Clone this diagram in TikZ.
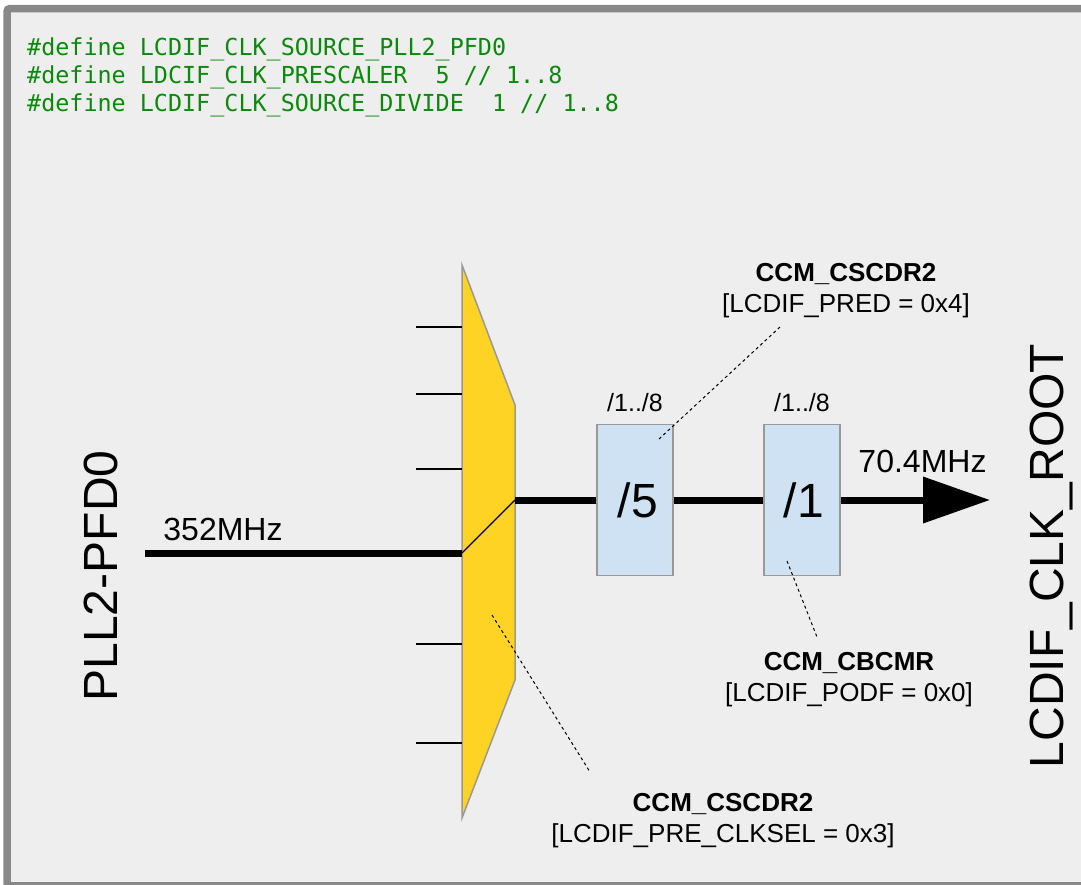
\documentclass[tikz,border=0pt]{standalone}
\usepackage{fontspec}
\setmainfont{Liberation Sans}
\newfontfamily\codefont{DejaVu Sans Mono}
\usetikzlibrary{arrows.meta}
\usetikzlibrary{positioning}

\definecolor{panelgray}{HTML}{EEEEEE}
\definecolor{framegray}{HTML}{888888}
\definecolor{codegreen}{HTML}{0A8A0A}
\definecolor{muxyellow}{HTML}{FFD324}
\definecolor{divblue}{HTML}{CFE2F3}
\definecolor{edgegray}{HTML}{999999}

\tikzset{
  clk/.style={line width=7pt},
  codeline/.style={anchor=base west, inner sep=0pt, text=codegreen, font=\codefont\fontsize{23.4}{28}\selectfont},
  divbox/.style={draw=edgegray, line width=1.3pt, fill=divblue, minimum width=76pt, minimum height=151pt, inner sep=0pt, font=\fontsize{48}{52}\selectfont},
  divrange/.style={inner sep=0pt, font=\fontsize{25}{28}\selectfont},
  reglabel/.style={align=center, inner sep=0pt, font=\fontsize{26}{31}\selectfont},
  pointer/.style={line width=1pt, dash pattern=on 3pt off 3pt},
  bigname/.style={rotate=90, anchor=base, inner sep=0pt, font=\fontsize{48}{50}\selectfont},
  freq/.style={anchor=base, inner sep=0pt, font=\fontsize{32}{36}\selectfont},
}

\begin{document}
\begin{tikzpicture}[x=1pt,y=-1pt]
\useasboundingbox (0,0) rectangle (1081,884);
\clip (0,0) rectangle (1081,884);
% panel
\draw[framegray, line width=7.5pt, fill=panelgray, rounded corners=3pt] (7,8.5) rectangle (1120,885.75);

% settings
\node[codeline] (code1) at (27,55) {\#define LCDIF\_CLK\_SOURCE\_PLL2\_PFD0};
\node[codeline] (code2) at (27,83) {\#define LDCIF\_CLK\_PRESCALER\ \ 5 // 1..8};
\node[codeline] (code3) at (27,111) {\#define LCDIF\_CLK\_SOURCE\_DIVIDE\ \ 1 // 1..8};

% clock mux
\draw[edgegray, line width=1.5pt, fill=muxyellow] (462,265) -- (515,405) -- (515,680) -- (462,818) -- cycle;
\coordinate (muxin) at (462,553);
\coordinate (muxout) at (515,500);
\foreach \y in {327,394,469,644,743} {
  \coordinate (stub\y) at (416,\y);
  \draw[line width=1.2pt] (stub\y) -- (462,\y);
}
\draw[line width=1.2pt] (muxin) -- (muxout);

% source
\node[bigname] (srcname) at (117,576) {PLL2-PFD0};
\coordinate (src) at (145,553);
\draw[clk] (src) -- (muxin);
\node[freq] (srcfreq) at (223,540) {352MHz};

% dividers
\node[divbox] (pred) at (635,500) {\hspace*{6pt}/5};
\node[divbox] (podf) at (802,500) {\hspace*{4pt}/1};
\node[divrange, above=12pt of pred] (predrange) {/1../8};
\node[divrange, above=12pt of podf] (podfrange) {/1../8};
\coordinate (out) at (990,500);
\draw[clk] (muxout) -- (pred);
\draw[clk] (pred) -- (podf);
\draw[clk, -{Triangle[length=67pt,width=45pt]}] (podf) -- (out);
\node[freq] (outfreq) at (922.5,472) {70.4MHz};

% root
\node[bigname] (rootname) at (1063,556) {LCDIF\_CLK\_ROOT};

% registers
\node[reglabel] (predreg) at (846,291) {\textbf{CCM\_CSCDR2}\\{}[LCDIF\_PRED = 0x4]};
\node[reglabel] (podfreg) at (849,680) {\textbf{CCM\_CBCMR}\\{}[LCDIF\_PODF = 0x0]};
\node[reglabel] (selreg) at (723,820.5) {\textbf{CCM\_CSCDR2}\\{}[LCDIF\_PRE\_CLKSEL = 0x3]};
\coordinate (predtip) at (659,439);
\coordinate (predend) at (780,327);
\coordinate (podftip) at (787,561);
\coordinate (podfend) at (817,637);
\coordinate (seltip) at (492,615);
\coordinate (selend) at (590,772);
\draw[pointer] (predtip) -- (predend);
\draw[pointer] (podftip) -- (podfend);
\draw[pointer] (seltip) -- (selend);
\end{tikzpicture}
\end{document}
